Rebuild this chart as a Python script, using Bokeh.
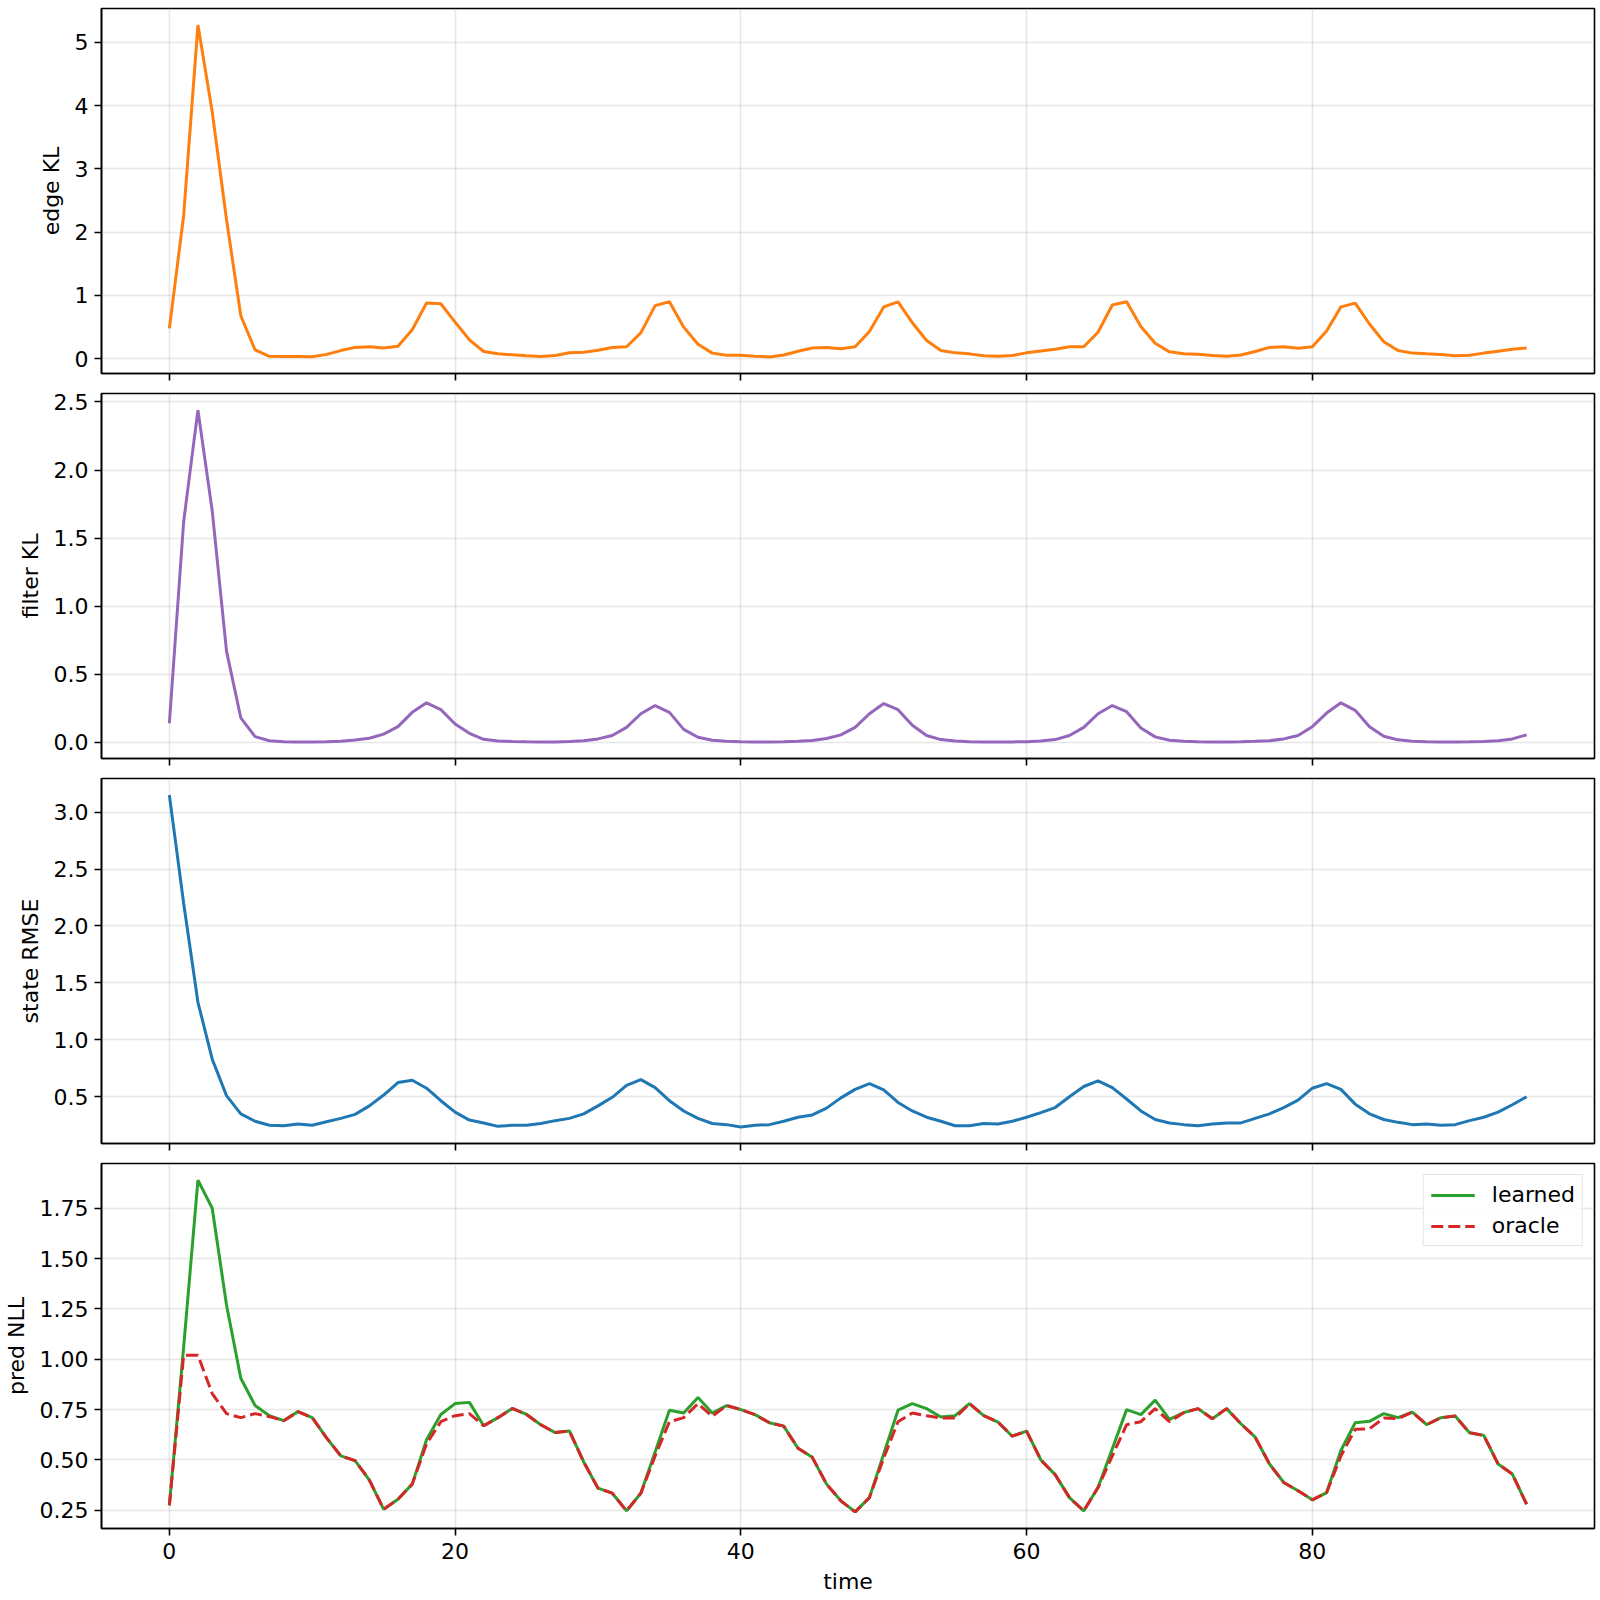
from bokeh.plotting import figure
from bokeh.layouts import column
from bokeh.models import FixedTicker, NumeralTickFormatter, Range1d, Legend, LegendItem
from bokeh.embed import file_html
from bokeh.resources import INLINE

time = list(range(96))

edge_kl = [0.48, 2.26, 5.27, 3.9, 2.2, 0.68, 0.14, 0.04, 0.037, 0.035,
           0.032, 0.07, 0.13, 0.18, 0.19, 0.17, 0.2, 0.46, 0.88, 0.87,
           0.58, 0.3, 0.115, 0.079, 0.063, 0.047, 0.037, 0.053, 0.097, 0.102,
           0.135, 0.18, 0.19, 0.41, 0.84, 0.9, 0.5, 0.23, 0.09, 0.057,
           0.057, 0.042, 0.03, 0.06, 0.12, 0.17, 0.18, 0.16, 0.19, 0.43,
           0.82, 0.9, 0.57, 0.29, 0.13, 0.094, 0.078, 0.047, 0.042, 0.052,
           0.094, 0.125, 0.15, 0.19, 0.19, 0.42, 0.85, 0.9, 0.51, 0.245,
           0.11, 0.08, 0.073, 0.052, 0.04, 0.06, 0.115, 0.18, 0.19, 0.167,
           0.19, 0.44, 0.82, 0.88, 0.55, 0.27, 0.13, 0.09, 0.078, 0.068,
           0.047, 0.057, 0.09, 0.12, 0.15, 0.17]

filter_kl = [0.14, 1.62, 2.44, 1.7, 0.67, 0.18, 0.042, 0.012, 0.005, 0.003,
             0.003, 0.004, 0.008, 0.017, 0.03, 0.06, 0.115, 0.22, 0.29, 0.24,
             0.135, 0.066, 0.022, 0.01, 0.006, 0.004, 0.003, 0.003, 0.006, 0.012,
             0.025, 0.05, 0.11, 0.21, 0.27, 0.22, 0.095, 0.037, 0.015, 0.007,
             0.004, 0.003, 0.003, 0.004, 0.007, 0.013, 0.028, 0.055, 0.11, 0.21,
             0.285, 0.24, 0.125, 0.05, 0.02, 0.009, 0.005, 0.003, 0.003, 0.003,
             0.005, 0.009, 0.02, 0.05, 0.11, 0.21, 0.27, 0.225, 0.105, 0.04,
             0.015, 0.007, 0.004, 0.003, 0.003, 0.004, 0.007, 0.012, 0.025, 0.05,
             0.115, 0.215, 0.29, 0.235, 0.115, 0.045, 0.018, 0.008, 0.005, 0.003,
             0.003, 0.004, 0.006, 0.012, 0.025, 0.055]

state_rmse = [3.15, 2.2, 1.33, 0.83, 0.51, 0.35, 0.285, 0.25, 0.245, 0.26,
              0.25, 0.28, 0.31, 0.345, 0.42, 0.515, 0.625, 0.645, 0.575, 0.465,
              0.365, 0.295, 0.27, 0.24, 0.25, 0.25, 0.265, 0.29, 0.31, 0.35,
              0.42, 0.495, 0.6, 0.65, 0.58, 0.465, 0.375, 0.31, 0.265, 0.255,
              0.235, 0.25, 0.255, 0.285, 0.32, 0.34, 0.4, 0.49, 0.565, 0.615,
              0.56, 0.45, 0.375, 0.32, 0.285, 0.245, 0.245, 0.265, 0.26, 0.285,
              0.32, 0.36, 0.405, 0.5, 0.59, 0.64, 0.58, 0.48, 0.375, 0.3,
              0.27, 0.255, 0.245, 0.26, 0.27, 0.27, 0.31, 0.35, 0.405, 0.47,
              0.575, 0.615, 0.565, 0.435, 0.35, 0.3, 0.275, 0.255, 0.26, 0.25,
              0.255, 0.29, 0.32, 0.365, 0.43, 0.5]

nll_learned = [0.275, 1.06, 1.89, 1.75, 1.27, 0.906, 0.77, 0.72, 0.695, 0.74,
               0.71, 0.61, 0.52, 0.497, 0.4, 0.255, 0.305, 0.38, 0.6, 0.726,
               0.78, 0.786, 0.67, 0.71, 0.756, 0.726, 0.675, 0.636, 0.644, 0.49,
               0.36, 0.335, 0.247, 0.335, 0.54, 0.747, 0.733, 0.81, 0.733, 0.77,
               0.75, 0.725, 0.685, 0.668, 0.558, 0.513, 0.38, 0.297, 0.242, 0.313,
               0.53, 0.747, 0.78, 0.755, 0.713, 0.72, 0.78, 0.72, 0.688, 0.618,
               0.643, 0.5, 0.427, 0.313, 0.247, 0.363, 0.555, 0.75, 0.725, 0.797,
               0.702, 0.735, 0.755, 0.705, 0.755, 0.68, 0.613, 0.48, 0.388, 0.347,
               0.302, 0.338, 0.547, 0.685, 0.692, 0.73, 0.71, 0.738, 0.675, 0.71,
               0.718, 0.635, 0.622, 0.48, 0.43, 0.28]

nll_oracle = [0.275, 1.02, 1.02, 0.83, 0.73, 0.71, 0.73, 0.715, 0.695, 0.74,
              0.71, 0.61, 0.52, 0.497, 0.4, 0.255, 0.305, 0.38, 0.58, 0.69,
              0.72, 0.73, 0.67, 0.71, 0.756, 0.726, 0.675, 0.636, 0.644, 0.49,
              0.36, 0.335, 0.247, 0.335, 0.52, 0.69, 0.71, 0.78, 0.717, 0.77,
              0.75, 0.725, 0.685, 0.668, 0.558, 0.513, 0.38, 0.297, 0.242, 0.313,
              0.51, 0.69, 0.733, 0.72, 0.708, 0.708, 0.78, 0.72, 0.688, 0.618,
              0.643, 0.5, 0.427, 0.313, 0.247, 0.363, 0.52, 0.675, 0.69, 0.755,
              0.69, 0.735, 0.755, 0.705, 0.755, 0.68, 0.613, 0.48, 0.388, 0.347,
              0.302, 0.338, 0.52, 0.652, 0.655, 0.708, 0.705, 0.738, 0.675, 0.71,
              0.718, 0.635, 0.622, 0.48, 0.43, 0.28]

x_ticks = [0, 20, 40, 60, 80]
FONT = "DejaVu Sans"
FS = "22px"
LW = 3.0


def pad_range(vals, frac=0.05):
    lo, hi = min(vals), max(vals)
    s = hi - lo
    return Range1d(lo - frac * s, hi + frac * s)


def make_fig(ylabel, yrange, yticks, yfmt, first=False, last=False):
    xr = pad_range(time)
    p = figure(output_backend="svg", toolbar_location=None,
               frame_width=1493, frame_height=365,
               x_range=xr, y_range=yrange,
               min_border_left=98, min_border_right=8,
               min_border_top=8 if first else 10,
               min_border_bottom=0 if last else 10)
    p.background_fill_color = "white"
    p.border_fill_color = "white"
    p.outline_line_color = "black"
    p.outline_line_width = 1.6
    p.outline_line_alpha = 1.0
    for ax in (p.xaxis[0], p.yaxis[0]):
        ax.axis_line_color = "black"
        ax.axis_line_width = 1.6
        ax.major_tick_line_color = "black"
        ax.major_tick_line_width = 1.6
        ax.major_tick_out = 7
        ax.major_tick_in = 0
        ax.minor_tick_line_color = None
        ax.major_label_text_font = FONT
        ax.major_label_text_font_size = FS
        ax.major_label_text_color = "black"
        ax.axis_label_text_font = FONT
        ax.axis_label_text_font_size = FS
        ax.axis_label_text_font_style = "normal"
        ax.axis_label_text_color = "black"
    p.xaxis.ticker = FixedTicker(ticks=x_ticks)
    p.yaxis.ticker = FixedTicker(ticks=yticks)
    p.yaxis.formatter = NumeralTickFormatter(format=yfmt)
    p.yaxis.axis_label = ylabel
    p.yaxis.major_label_standoff = 6
    p.yaxis.axis_label_standoff = 8
    if last:
        p.xaxis.axis_label = "time"
        p.xaxis.major_label_standoff = 7
        p.xaxis.axis_label_standoff = 7
    else:
        p.xaxis.major_label_text_color = None
        p.xaxis.major_label_text_font_size = "1px"
        p.xaxis.major_label_standoff = 0
    p.grid.grid_line_color = "#b0b0b0"
    p.grid.grid_line_alpha = 0.3
    p.grid.grid_line_width = 1.6
    return p


f1 = make_fig("edge KL", pad_range(edge_kl), [0, 1, 2, 3, 4, 5], "0", first=True)
f1.line(time, edge_kl, line_color="#ff7f0e", line_width=LW)

f2 = make_fig("filter KL", pad_range(filter_kl), [0, 0.5, 1.0, 1.5, 2.0, 2.5], "0.0")
f2.line(time, filter_kl, line_color="#9467bd", line_width=LW)

f3 = make_fig("state RMSE", pad_range(state_rmse), [0.5, 1.0, 1.5, 2.0, 2.5, 3.0], "0.0")
f3.line(time, state_rmse, line_color="#1f77b4", line_width=LW)

f4 = make_fig("pred NLL", pad_range(nll_learned + nll_oracle),
              [0.25, 0.5, 0.75, 1.0, 1.25, 1.5, 1.75], "0.00", last=True)
r_learned = f4.line(time, nll_learned, line_color="#2ca02c", line_width=LW)
r_oracle = f4.line(time, nll_oracle, line_color="#d62728", line_width=LW, line_dash="12 5")

legend = Legend(items=[LegendItem(label="learned", renderers=[r_learned]),
                       LegendItem(label="oracle", renderers=[r_oracle])],
                location="top_right")
legend.label_text_font = FONT
legend.label_text_font_size = FS
legend.label_text_color = "black"
legend.border_line_color = "#cccccc"
legend.border_line_width = 1.6
legend.background_fill_color = "white"
legend.background_fill_alpha = 0.85
legend.glyph_width = 44
legend.glyph_height = 22
legend.label_standoff = 17
legend.label_height = 22
legend.spacing = 6
legend.padding = 7
legend.margin = 11
f4.add_layout(legend)

layout = column(f1, f2, f3, f4, spacing=0)

open("out.html", "w").write(file_html(layout, INLINE))
